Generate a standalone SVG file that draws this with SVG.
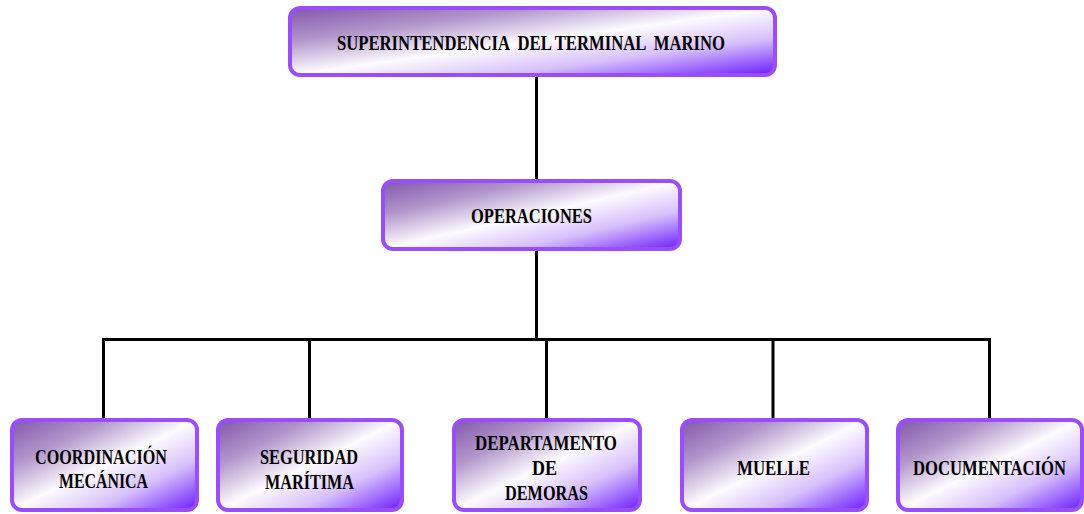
<svg xmlns="http://www.w3.org/2000/svg" width="1084" height="514" viewBox="0 0 1084 514">
  <defs>
    <linearGradient id="boxFill" x1="0" y1="0" x2="1" y2="1">
      <stop offset="0" stop-color="#8257ab"/>
      <stop offset="0.25" stop-color="#b195cb"/>
      <stop offset="0.5" stop-color="#fdfbff"/>
      <stop offset="0.72" stop-color="#d7c0fb"/>
      <stop offset="1" stop-color="#6a1bff"/>
    </linearGradient>
    <style>
      .box { fill: url(#boxFill); stroke: #9a4dfb; stroke-width: 4; }
      .lbl { font-family: "Liberation Serif", "Times New Roman", serif; font-weight: bold; font-size: 21px; fill: #000; }
      .wire { stroke: #000; stroke-width: 3; fill: none; }
    </style>
  </defs>
  <rect width="1084" height="514" fill="#fff"/>

  <g id="connectors">
    <line class="wire" x1="536.5" y1="76" x2="536.5" y2="180"/>
    <line class="wire" x1="536.5" y1="250" x2="536.5" y2="339.5"/>
    <line class="wire" x1="102" y1="339.5" x2="991" y2="339.5"/>
    <line class="wire" x1="103.5" y1="338" x2="103.5" y2="419"/>
    <line class="wire" x1="309.5" y1="338" x2="309.5" y2="419"/>
    <line class="wire" x1="546.5" y1="338" x2="546.5" y2="419"/>
    <line class="wire" x1="773" y1="338" x2="773" y2="419"/>
    <line class="wire" x1="989.5" y1="338" x2="989.5" y2="419"/>
  </g>

  <!-- labels use a narrowed serif: each is squeezed to 80% width -->
  <g id="superintendencia">
    <rect class="box" x="290" y="8" width="485" height="67" rx="10"/>
    <text class="lbl" transform="translate(337 50) scale(0.8 1)" textLength="485" lengthAdjust="spacingAndGlyphs" xml:space="preserve">SUPERINTENDENCIA  DEL TERMINAL  MARINO</text>
  </g>

  <g id="operaciones">
    <rect class="box" x="383" y="181" width="297" height="68" rx="10"/>
    <text class="lbl" transform="translate(471 223) scale(0.8 1)" textLength="151.25" lengthAdjust="spacingAndGlyphs">OPERACIONES</text>
  </g>

  <g id="coordinacion">
    <rect class="box" x="12" y="420" width="185" height="90" rx="10"/>
    <text class="lbl" transform="translate(35 464) scale(0.8 1)" textLength="165" lengthAdjust="spacingAndGlyphs">COORDINACIÓN</text>
    <text class="lbl" transform="translate(59 488) scale(0.8 1)" textLength="111.25" lengthAdjust="spacingAndGlyphs">MECÁNICA</text>
  </g>

  <g id="seguridad">
    <rect class="box" x="218" y="420" width="184" height="90" rx="10"/>
    <text class="lbl" transform="translate(260 464) scale(0.8 1)" textLength="122.5" lengthAdjust="spacingAndGlyphs">SEGURIDAD</text>
    <text class="lbl" transform="translate(265 489) scale(0.8 1)" textLength="111.25" lengthAdjust="spacingAndGlyphs">MARÍTIMA</text>
  </g>

  <g id="demoras">
    <rect class="box" x="454" y="420" width="186" height="90" rx="10"/>
    <text class="lbl" transform="translate(475 450) scale(0.8 1)" textLength="177.5" lengthAdjust="spacingAndGlyphs">DEPARTAMENTO</text>
    <text class="lbl" transform="translate(532 475) scale(0.8 1)" textLength="31.25" lengthAdjust="spacingAndGlyphs">DE</text>
    <text class="lbl" transform="translate(505 500) scale(0.8 1)" textLength="103.75" lengthAdjust="spacingAndGlyphs">DEMORAS</text>
  </g>

  <g id="muelle">
    <rect class="box" x="682" y="420" width="185" height="90" rx="10"/>
    <text class="lbl" transform="translate(737 475) scale(0.8 1)" textLength="91.25" lengthAdjust="spacingAndGlyphs">MUELLE</text>
  </g>

  <g id="documentacion">
    <rect class="box" x="898" y="420" width="184" height="90" rx="10"/>
    <text class="lbl" transform="translate(913 475) scale(0.8 1)" textLength="191.25" lengthAdjust="spacingAndGlyphs">DOCUMENTACIÓN</text>
  </g>
</svg>
